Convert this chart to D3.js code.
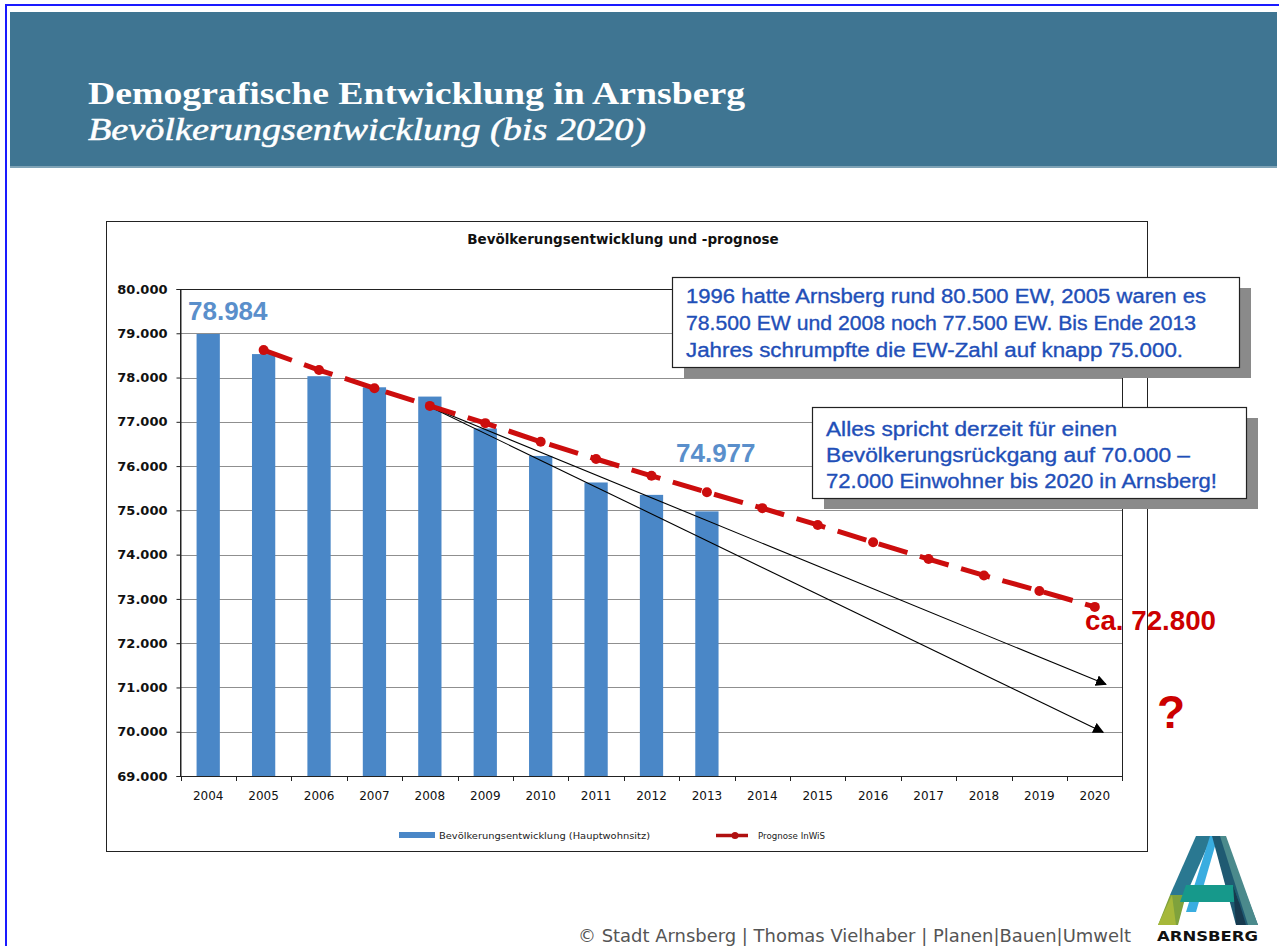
<!DOCTYPE html>
<html>
<head>
<meta charset="utf-8">
<script src="https://cdn.jsdelivr.net/npm/d3@7"></script>
<style>
  html, body { margin: 0; padding: 0; background: #fff; }
  svg { display: block; }
</style>
</head>
<body>
<svg id="chart" width="1279" height="946"></svg>
<script>
// ---------- data ----------
const years = ["2004","2005","2006","2007","2008","2009","2010","2011","2012","2013","2014","2015","2016","2017","2018","2019","2020"];
const popYears = ["2004","2005","2006","2007","2008","2009","2010","2011","2012","2013"];
const population = [78984, 78530, 78030, 77780, 77570, 76850, 76230, 75630, 75350, 74977];
const progYears = ["2005","2006","2007","2008","2009","2010","2011","2012","2013","2014","2015","2016","2017","2018","2019","2020"];
const prognose = [78620, 78170, 77760, 77360, 76970, 76550, 76160, 75780, 75410, 75050, 74670, 74280, 73900, 73530, 73180, 72820];
const yTicks = [69000, 70000, 71000, 72000, 73000, 74000, 75000, 76000, 77000, 78000, 79000, 80000];
// trend arrows: [startYear, startValue, endYear, endValue]
const arrowStarts = [[2008, 77340], [2008, 77340]];
const arrowEnds = [[2020.2, 71070], [2020.15, 69990]];
const labelFirst = "78.984";
const labelLast = "74.977";
const labelEnd = "ca. 72.800";
const seriesNames = ["Bevölkerungsentwicklung (Hauptwohnsitz)", "Prognose InWiS"];
const box1Lines = ["1996 hatte Arnsberg rund 80.500 EW, 2005 waren es", "78.500 EW und 2008 noch 77.500 EW. Bis Ende 2013", "Jahres schrumpfte die EW-Zahl auf knapp 75.000."];
const box2Lines = ["Alles spricht derzeit für einen", "Bevölkerungsrückgang auf 70.000 –", "72.000 Einwohner bis 2020 in Arnsberg!"];

// ---------- setup ----------
const svg = d3.select("#chart");
const de = d3.formatLocale({decimal: ",", thousands: ".", grouping: [3], currency: ["", "€"]});
const fmt = de.format(",.0f");

// page border
svg.append("rect").attr("x", 6).attr("y", 5).attr("width", 1290).attr("height", 960)
  .attr("fill", "none").attr("stroke", "#1a1aff").attr("stroke-width", 2);

// header
svg.append("rect").attr("x", 10).attr("y", 12).attr("width", 1267).attr("height", 156).attr("fill", "#3f7592");
svg.append("rect").attr("x", 10).attr("y", 166).attr("width", 1267).attr("height", 2).attr("fill", "#7fa3b6");
svg.append("text").attr("x", 88).attr("y", 104).attr("fill", "#fff")
  .attr("font-family", "Liberation Serif, serif").attr("font-size", 32).attr("font-weight", "bold")
  .attr("textLength", 657).attr("lengthAdjust", "spacingAndGlyphs")
  .text("Demografische Entwicklung in Arnsberg");
svg.append("text").attr("x", 88).attr("y", 140).attr("fill", "#fff")
  .attr("font-family", "Liberation Serif, serif").attr("font-size", 32).attr("font-style", "italic")
  .attr("stroke", "#fff").attr("stroke-width", 0.5)
  .attr("textLength", 558).attr("lengthAdjust", "spacingAndGlyphs")
  .text("Bevölkerungsentwicklung (bis 2020)");

// chart box
svg.append("rect").attr("x", 106.5).attr("y", 221.5).attr("width", 1041).attr("height", 630)
  .attr("fill", "#fff").attr("stroke", "#222").attr("stroke-width", 1);
svg.append("text").attr("x", 623).attr("y", 244).attr("text-anchor", "middle")
  .attr("font-family", "DejaVu Sans, sans-serif").attr("font-weight", "bold").attr("font-size", 13.5)
  .attr("fill", "#111").text("Bevölkerungsentwicklung und -prognose");

// scales
const xs = d3.scaleBand().domain(years).range([180.5, 1122.5]).padding(0);
const bw = xs.bandwidth();
const xc = d3.scaleLinear().domain([2004, 2020]).range([xs("2004") + bw / 2, xs("2020") + bw / 2]);
const y = d3.scaleLinear().domain([69000, 80000]).range([776, 289]);

// gridlines
const g = svg.append("g");
g.selectAll("line.grid").data(yTicks.slice(1, -1)).join("line")
  .attr("x1", 180.5).attr("x2", 1122.5)
  .attr("y1", d => Math.round(y(d)) + 0.5).attr("y2", d => Math.round(y(d)) + 0.5)
  .attr("stroke", "#8f8f8f").attr("stroke-width", 1);

// bars
const barW = bw * 0.42;
g.selectAll("rect.bar").data(population).join("rect")
  .attr("x", (d, i) => xs(popYears[i]) + (bw - barW) / 2)
  .attr("y", d => y(d))
  .attr("width", barW)
  .attr("height", d => y(69000) - y(d))
  .attr("fill", "#4a87c7");

// plot frame
svg.append("rect").attr("x", 180.5).attr("y", Math.round(y(80000)) + 0.5)
  .attr("width", 942).attr("height", Math.round(y(69000)) - Math.round(y(80000)))
  .attr("fill", "none").attr("stroke", "#222").attr("stroke-width", 1);

// y axis
const yAxis = d3.axisLeft(y).tickValues(yTicks).tickSize(4).tickPadding(9).tickFormat(fmt);
const ya = svg.append("g").attr("transform", "translate(180.5,0)").call(yAxis);
ya.select(".domain").attr("stroke", "#222");
ya.selectAll(".tick line").attr("stroke", "#222");
ya.selectAll("text").attr("font-family", "DejaVu Sans, sans-serif").attr("font-weight", "bold")
  .attr("font-size", 13).attr("fill", "#111");

// x axis labels
const xAxis = d3.axisBottom(xs).tickSize(0).tickPadding(15);
const xa = svg.append("g").attr("transform", `translate(0,${y(69000)})`).call(xAxis);
xa.select(".domain").remove();
xa.selectAll("text").attr("font-family", "DejaVu Sans, sans-serif").attr("font-size", 12).attr("fill", "#111");
// x ticks at band boundaries
svg.append("g").selectAll("line").data(years.concat(["end"])).join("line")
  .attr("x1", d => d === "end" ? xs.range()[1] : Math.round(xs(d)) + 0.5)
  .attr("x2", d => d === "end" ? xs.range()[1] : Math.round(xs(d)) + 0.5)
  .attr("y1", y(69000)).attr("y2", y(69000) + 5)
  .attr("stroke", "#222");

// arrow marker
const defs = svg.append("defs");
defs.append("marker").attr("id", "arr").attr("viewBox", "0 0 10 10").attr("refX", 9).attr("refY", 5)
  .attr("markerWidth", 11).attr("markerHeight", 11).attr("markerUnits", "userSpaceOnUse").attr("orient", "auto")
  .append("path").attr("d", "M0,0 L10,5 L0,10 Z").attr("fill", "#000");

svg.append("g").selectAll("line").data(arrowEnds).join("line")
  .attr("x1", (d, i) => xc(arrowStarts[i][0])).attr("y1", (d, i) => y(arrowStarts[i][1]))
  .attr("x2", d => xc(d[0])).attr("y2", d => y(d[1]))
  .attr("stroke", "#000").attr("stroke-width", 1.1).attr("marker-end", "url(#arr)");

// prognose line
const line = d3.line().x((d, i) => xc(+progYears[i])).y(d => y(d));
svg.append("path").datum(prognose).attr("d", line)
  .attr("fill", "none").attr("stroke", "#cc0d0d").attr("stroke-width", 5)
  .attr("stroke-dasharray", "30,13");
svg.append("g").selectAll("circle").data(prognose).join("circle")
  .attr("cx", (d, i) => xc(+progYears[i])).attr("cy", d => y(d)).attr("r", 5)
  .attr("fill", "#cc0d0d");

// value labels
svg.append("text").attr("x", 188).attr("y", 320).attr("fill", "#5a8fcb")
  .attr("font-family", "Liberation Sans, Arial, sans-serif").attr("font-weight", "bold").attr("font-size", 26)
  .text(labelFirst);
svg.append("text").attr("x", 676).attr("y", 462).attr("fill", "#5a8fcb")
  .attr("font-family", "Liberation Sans, Arial, sans-serif").attr("font-weight", "bold").attr("font-size", 26)
  .text(labelLast);
svg.append("text").attr("x", 1085).attr("y", 630).attr("fill", "#cc0000")
  .attr("font-family", "Liberation Sans, Arial, sans-serif").attr("font-weight", "bold").attr("font-size", 27)
  .attr("textLength", 131).attr("lengthAdjust", "spacingAndGlyphs")
  .text(labelEnd);
svg.append("text").attr("x", 1157).attr("y", 728).attr("fill", "#cc0000")
  .attr("font-family", "Liberation Sans, Arial, sans-serif").attr("font-weight", "bold").attr("font-size", 46)
  .text("?");

// annotation boxes
function box(x, yy, w, h, lines, baselines, widths, tx) {
  svg.append("rect").attr("x", x + 12).attr("y", yy + 11).attr("width", w).attr("height", h).attr("fill", "#8a8a8a");
  svg.append("rect").attr("x", x + 0.5).attr("y", yy + 0.5).attr("width", w).attr("height", h)
    .attr("fill", "#fff").attr("stroke", "#222").attr("stroke-width", 1.2);
  lines.forEach((t, i) => {
    svg.append("text").attr("x", tx).attr("y", baselines[i]).attr("fill", "#1f4fb8")
      .attr("font-family", "Liberation Sans, Arial, sans-serif").attr("font-size", 19.5)
      .attr("stroke", "#1f4fb8").attr("stroke-width", 0.35)
      .attr("textLength", widths[i]).attr("lengthAdjust", "spacingAndGlyphs")
      .text(t);
  });
}
box(672, 277, 567, 90, box1Lines, [303, 330, 357], [520, 510, 497], 686);
box(812, 407, 434, 91, box2Lines, [436, 462, 488], [291, 364, 391], 826);

// legend
svg.append("rect").attr("x", 399).attr("y", 832).attr("width", 36).attr("height", 6).attr("fill", "#4a87c7");
svg.append("text").attr("x", 439).attr("y", 839).attr("font-family", "DejaVu Sans, sans-serif").attr("font-size", 9.3)
  .attr("fill", "#222").attr("textLength", 211).attr("lengthAdjust", "spacingAndGlyphs").text(seriesNames[0]);
svg.append("line").attr("x1", 716).attr("x2", 748).attr("y1", 835.5).attr("y2", 835.5)
  .attr("stroke", "#b01010").attr("stroke-width", 3.5);
svg.append("circle").attr("cx", 735).attr("cy", 835.5).attr("r", 3.5).attr("fill", "#b01010");
svg.append("text").attr("x", 758).attr("y", 839).attr("font-family", "DejaVu Sans, sans-serif").attr("font-size", 9.3)
  .attr("fill", "#222").attr("textLength", 67).attr("lengthAdjust", "spacingAndGlyphs").text(seriesNames[1]);

// footer
svg.append("text").attr("x", 578).attr("y", 942).attr("fill", "#555")
  .attr("font-family", "DejaVu Sans, sans-serif").attr("font-size", 17)
  .attr("textLength", 553).attr("lengthAdjust", "spacingAndGlyphs")
  .text("© Stadt Arnsberg | Thomas Vielhaber | Planen|Bauen|Umwelt");

// logo (A shape)
const logo = svg.append("g");
const polys = [
  // left leg, upper part (blue-teal)
  {p: [[1196,836],[1212,836],[1186,895],[1170,895]], c: "#2a7891"},
  // left leg, lower part (olive green)
  {p: [[1170,895],[1186,895],[1178,925],[1158,925]], c: "#7fa23c"},
  {p: [[1164,912],[1172,895],[1176,925],[1158,925]], c: "#a6b83a"},
  // light blue inner stripe
  {p: [[1210,836],[1218,836],[1196,912],[1186,912]], c: "#39ade0"},
  // right leg (dark teal)
  {p: [[1212,836],[1224,836],[1258,925],[1236,925]], c: "#1f5a72"},
  {p: [[1220,836],[1226,836],[1258,925],[1248,925]], c: "#4b8a8c"},
  // crossbar (teal)
  {p: [[1186,885],[1233,885],[1239,902],[1180,902]], c: "#16998b"},
  // dark right lower
  {p: [[1233,885],[1239,902],[1246,925],[1236,925]], c: "#173a4f"}
];
logo.selectAll("polygon").data(polys).join("polygon")
  .attr("points", d => d.p.map(q => q.join(",")).join(" ")).attr("fill", d => d.c);
svg.append("text").attr("x", 1157).attr("y", 941).attr("font-family", "DejaVu Sans, sans-serif")
  .attr("font-weight", "bold").attr("font-size", 14).attr("fill", "#111")
  .attr("textLength", 101).attr("lengthAdjust", "spacingAndGlyphs").text("ARNSBERG");
</script>
</body>
</html>
